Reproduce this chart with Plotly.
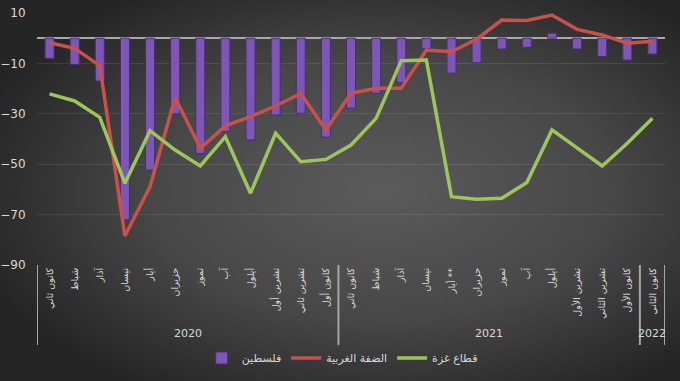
import base64
import plotly.graph_objects as go

months_2020 = ["كانون ثاني", "شباط", "آذار", "نيسان", "أيار", "حزيران", "تموز", "آب",
               "أيلول", "تشرين أول", "تشرين ثاني", "كانون أول"]
months_2021 = ["كانون ثاني", "شباط", "آذار", "نيسان", "أيار **", "حزيران", "تموز", "آب",
               "أيلول", "تشرين الأول", "تشرين الثاني", "كانون الأول"]
months_2022 = ["كانون الثاني"]
years = ["2020", "2021", "2022"]

palestine = [-8, -10.4, -17, -72, -52.3, -30, -45.7, -37, -40.4, -30.5, -29.8, -39.3,
             -27.8, -21.9, -17.6, -4.2, -13.9, -9.7, -4.3, -3.6, 2, -4.3, -7.3, -8.7, -6.3]
west_bank = [-1.8, -4, -10.9, -78.5, -58.9, -23.5, -43.7, -34.8, -31.1, -26.9, -21.9, -36.4,
             -21.9, -19.9, -19.9, -4.7, -5.4, -0.4, 7.2, 7, 9.2, 3.5, 1.3, -2, -1.2]
gaza = [-22.1, -24.9, -31.4, -57.6, -36.7, -44.4, -50.7, -39.1, -61.5, -37.7, -49, -48.1,
        -42.4, -31.8, -8.9, -8.7, -62.9, -63.9, -63.5, -57.3, -36.4, -43.7, -50.7, -41.7, -31.8]

names = ["فلسطين", "الضفة الغربية", "قطاع غزة"]

groups = [months_2020, months_2021, months_2022]
month_labels = [m for g in groups for m in g]
pos = list(range(len(month_labels)))  # category index positions

W, H = 680, 381
ml, mr, mt, mb = 37, 15, 13, 116
pw, ph = W - ml - mr, H - mt - mb

svg = (f"<svg xmlns='http://www.w3.org/2000/svg' width='{W}' height='{H}' preserveAspectRatio='none'>"
       "<defs><radialGradient id='g' cx='0.56' cy='0.5' r='0.62'>"
       "<stop offset='0' stop-color='#5b5b5b'/><stop offset='0.55' stop-color='#474747'/>"
       "<stop offset='1' stop-color='#252525'/></radialGradient></defs>"
       f"<rect width='{W}' height='{H}' fill='url(#g)'/></svg>")
bg_uri = "data:image/svg+xml;base64," + base64.b64encode(svg.encode()).decode()

font_family = "DejaVu Sans, Liberation Sans, sans-serif"
txt = "#d9d9d9"

fig = go.Figure()
fig.add_trace(go.Bar(x=pos, y=palestine, name=names[0],
                     marker=dict(color="#7d56b6", line=dict(color="#4a2d72", width=1))))
fig.add_trace(go.Scatter(x=pos, y=west_bank, name=names[1], mode="lines",
                         line=dict(color="#c8514b", width=3.5)))
fig.add_trace(go.Scatter(x=pos, y=gaza, name=names[2], mode="lines",
                         line=dict(color="#9cc55a", width=3.5)))

# group dividers and year labels
shapes = []
annotations = []
div_bottom = (H - mb - 345) / ph
start = 0
bounds = [-0.5]
for yr, g in zip(years, groups):
    end = start + len(g)
    bounds.append(end - 0.5)
    annotations.append(dict(x=(start + end - 1) / 2, y=(H - mb - 333) / ph, xref="x", yref="paper",
                            text=yr, showarrow=False, font=dict(size=11, color=txt),
                            xanchor="center", yanchor="middle"))
    start = end
for b in bounds:
    shapes.append(dict(type="line", xref="x", yref="paper", x0=b, x1=b, y0=0, y1=div_bottom,
                       line=dict(color="#a6a6a6", width=2)))

fig.update_layout(
    width=W, height=H,
    margin=dict(l=ml, r=mr, t=mt, b=mb, autoexpand=False),
    paper_bgcolor="#333333",
    plot_bgcolor="rgba(0,0,0,0)",
    font=dict(family=font_family, color=txt, size=11),
    bargap=0.64,
    showlegend=True,
    legend=dict(orientation="h", x=0.486, xanchor="center", y=(H - mb - 358) / ph, yanchor="middle",
                font=dict(size=11, color=txt), bgcolor="rgba(0,0,0,0)"),
    images=[dict(source=bg_uri, xref="paper", yref="paper",
                 x=-ml / pw, y=1 + mt / ph, sizex=W / pw, sizey=H / ph,
                 xanchor="left", yanchor="top", sizing="stretch", layer="below")],
    shapes=shapes,
    annotations=annotations,
)
fig.update_yaxes(range=[-90, 10], tick0=10, dtick=20, showgrid=True, automargin=False,
                 gridcolor="rgba(255,255,255,0.09)", gridwidth=1,
                 zeroline=True, zerolinecolor="#a8a8a8", zerolinewidth=2,
                 ticks="outside", ticklen=8, tickcolor="rgba(0,0,0,0)",
                 tickfont=dict(size=12, color=txt), showline=False)
fig.update_xaxes(range=[-0.5, len(pos) - 0.5], tickmode="array", tickvals=pos, ticktext=month_labels,
                 tickangle=-90, showgrid=False, zeroline=False, automargin=False,
                 tickfont=dict(size=9.5, color=txt), showline=False)

fig.write_html("out.html", config={"displayModeBar": False},
               post_script="document.body.style.margin='0';document.body.style.overflow='hidden';"
                           "document.body.style.background='#2a2a2a';")
